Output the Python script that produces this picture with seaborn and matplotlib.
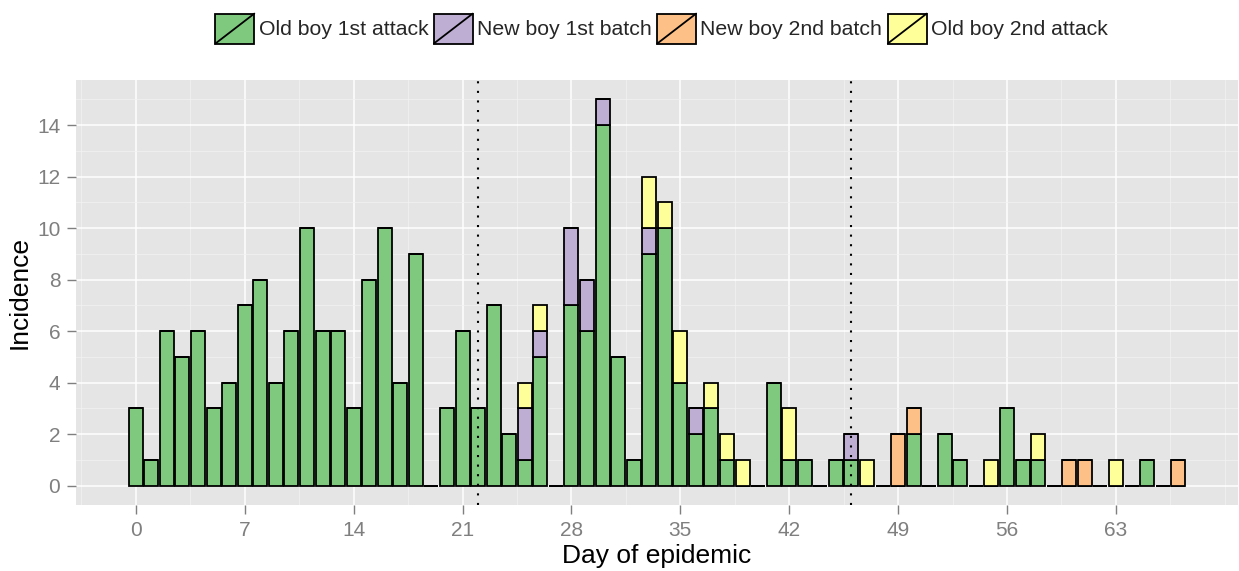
import numpy as np
import pandas as pd
import matplotlib
matplotlib.use("Agg")
import matplotlib.pyplot as plt
import seaborn as sns
from matplotlib.ticker import FixedLocator
from matplotlib.legend_handler import HandlerBase
from matplotlib.patches import Rectangle, Patch
from matplotlib.lines import Line2D

# Daily incidence by group, days 0..67
days = list(range(68))
old_1st = [3, 1, 6, 5, 6, 3, 4, 7, 8, 4, 6, 10, 6, 6, 3, 8, 10, 4, 9, 0,
           3, 6, 3, 7, 2, 1, 5, 0, 7, 6, 14, 5, 1, 9, 10, 4, 2, 3, 1, 0,
           0, 4, 1, 1, 0, 1, 1, 0, 0, 0, 2, 0, 2, 1, 0, 0, 3, 1, 1, 0,
           0, 0, 0, 0, 0, 1, 0, 0]
new_1st = [0] * 68
for d, v in {25: 2, 26: 1, 28: 3, 29: 2, 30: 1, 33: 1, 36: 1, 46: 1}.items():
    new_1st[d] = v
new_2nd = [0] * 68
for d, v in {49: 2, 50: 1, 60: 1, 61: 1, 67: 1}.items():
    new_2nd[d] = v
old_2nd = [0] * 68
for d, v in {25: 1, 26: 1, 33: 2, 34: 1, 35: 2, 37: 1, 38: 1, 39: 1,
             42: 2, 47: 1, 55: 1, 58: 1, 63: 1}.items():
    old_2nd[d] = v

groups = ["Old boy 1st attack", "New boy 1st batch", "New boy 2nd batch", "Old boy 2nd attack"]
colors = ["#7FC97F", "#BEAED4", "#FDC086", "#FFFF99"]
series = [old_1st, new_1st, new_2nd, old_2nd]
x_breaks = list(range(0, 64, 7))
y_breaks = list(range(0, 15, 2))
phase_days = [22, 46]

df = pd.concat(
    [pd.DataFrame({"day": days, "group": g, "count": s}) for g, s in zip(groups, series)],
    ignore_index=True,
)

sns.set_theme(style="darkgrid")
plt.rcParams["font.family"] = ["Liberation Sans", "DejaVu Sans"]

fig = plt.figure(figsize=(12.39, 5.71), dpi=100)
ax = fig.add_axes([76 / 1239, 1 - 505 / 571, (1238 - 76) / 1239, (505 - 80) / 571])
ax.set_facecolor("#E5E5E5")

# seaborn stacks the last hue level at the bottom
sns.histplot(
    data=df, x="day", weights="count", hue="group",
    hue_order=groups[::-1], palette=dict(zip(groups, colors)),
    multiple="stack", discrete=True, shrink=0.9,
    edgecolor="black", linewidth=1.3, alpha=1, legend=False, ax=ax,
)

for d in phase_days:
    ax.axvline(d, color="black", lw=1.5, linestyle=(0, (1, 3.6)), zorder=5)

ax.set_xlim(-3.845, 70.845)
ax.set_ylim(-0.75, 15.75)
ax.xaxis.set_major_locator(FixedLocator(x_breaks))
ax.yaxis.set_major_locator(FixedLocator(y_breaks))
ax.xaxis.set_minor_locator(FixedLocator([-3.5] + [b + 3.5 for b in x_breaks] + [70]))
ax.yaxis.set_minor_locator(FixedLocator(list(range(1, 16, 2))))
ax.set_axisbelow(True)
ax.grid(which="major", color="white", lw=1.1)
ax.grid(which="minor", color="#F2F2F2", lw=0.55)
ax.tick_params(which="major", length=6.3, width=1.0, color="#7F7F7F",
               labelcolor="#7F7F7F", labelsize=15, pad=5,
               bottom=True, left=True)
ax.tick_params(which="minor", length=0)
for s in ax.spines.values():
    s.set_visible(False)

ax.set_xlabel("Day of epidemic", fontsize=19, color="black", labelpad=3)
ax.set_ylabel("Incidence", fontsize=19, color="black", labelpad=4)


class SlashKey(HandlerBase):
    def create_artists(self, legend, orig_handle, xdescent, ydescent,
                       width, height, fontsize, trans):
        x0, y0 = -xdescent, -ydescent
        box = Rectangle((x0, y0), width, height,
                        facecolor=orig_handle.get_facecolor(),
                        edgecolor="black", lw=1.3, transform=trans)
        slash = Line2D([x0, x0 + width], [y0, y0 + height],
                       color="black", lw=1.3, transform=trans)
        return [box, slash]


handles = [Patch(facecolor=c) for c in colors]
fig.legend(
    handles, groups, loc="center", bbox_to_anchor=(0.534, 0.950), ncol=4,
    frameon=False, handler_map={Patch: SlashKey()}, fontsize=15.3,
    handlelength=1.83, handleheight=1.79, handletextpad=0.2,
    columnspacing=0.26, borderpad=0, borderaxespad=0,
)

fig.savefig("out.png", dpi=100)
